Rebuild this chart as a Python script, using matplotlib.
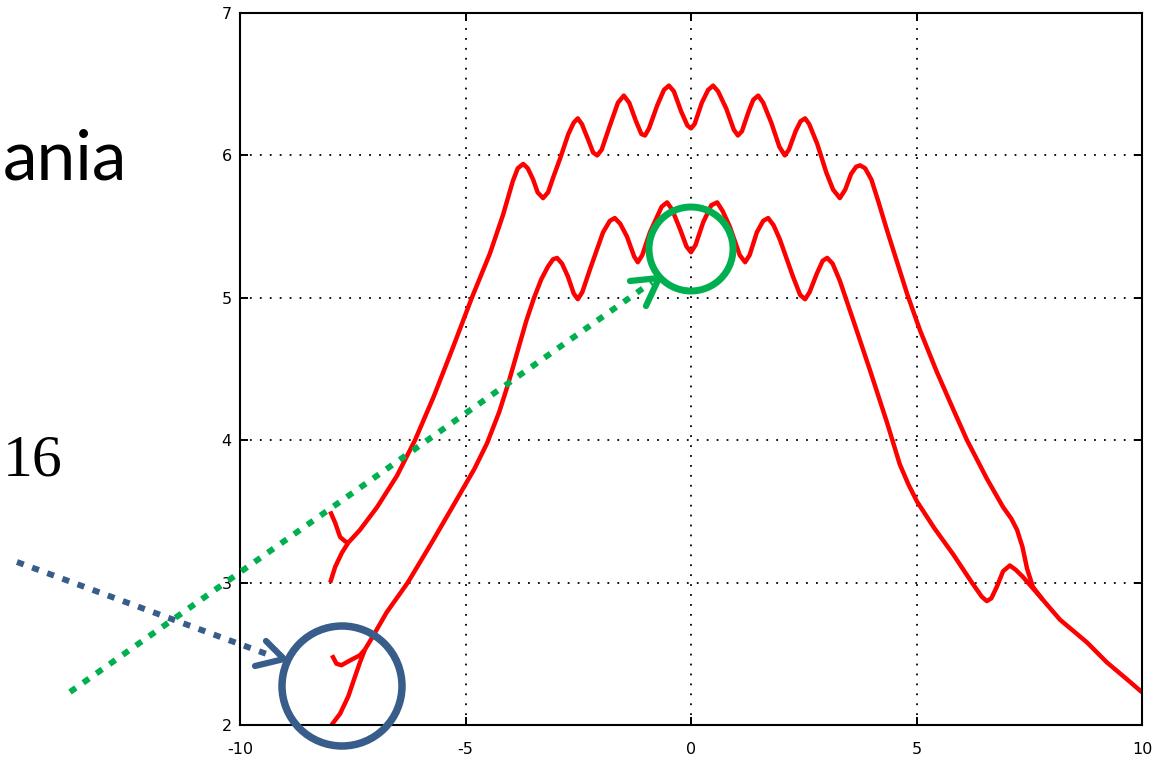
import numpy as np
import matplotlib.pyplot as plt
from matplotlib.patches import Circle

plt.rcParams['axes.unicode_minus'] = False

# main upper trajectory (after the two starting branches meet)
upper_x = [-7.60, -7.34, -6.96, -6.52, -6.12, -5.70, -5.28, -4.86, -4.46, -4.17,
           -3.95, -3.84, -3.72, -3.62, -3.50, -3.40, -3.28, -3.17, -3.05, -2.90,
           -2.72, -2.60, -2.51, -2.42, -2.28, -2.17, -2.08, -1.98, -1.82, -1.62,
           -1.49, -1.37, -1.22, -1.10, -1.02, -0.93, -0.75, -0.60, -0.49, -0.38,
           -0.22, -0.08, 0.00, 0.08, 0.24, 0.38, 0.49, 0.60, 0.78, 0.95,
           1.04, 1.13, 1.28, 1.38, 1.49, 1.60, 1.78, 1.96, 2.08, 2.17,
           2.32, 2.43, 2.53, 2.62, 2.80, 3.00, 3.15, 3.30, 3.42, 3.55,
           3.66, 3.75, 3.86, 4.00, 4.15, 4.35, 4.57, 4.80, 5.08, 5.45,
           5.81, 6.12, 6.56, 6.92, 7.10, 7.23, 7.35, 7.45, 7.58, 7.80,
           8.18, 8.78, 9.22, 9.67, 10.00]
upper_y = [3.28, 3.37, 3.53, 3.75, 4.00, 4.31, 4.65, 5.00, 5.31, 5.58,
           5.82, 5.91, 5.94, 5.91, 5.83, 5.74, 5.70, 5.74, 5.85, 5.98,
           6.15, 6.23, 6.26, 6.22, 6.11, 6.02, 6.00, 6.04, 6.19, 6.37,
           6.42, 6.37, 6.24, 6.15, 6.14, 6.19, 6.35, 6.46, 6.49, 6.45,
           6.31, 6.21, 6.19, 6.22, 6.37, 6.46, 6.49, 6.45, 6.33, 6.18,
           6.14, 6.17, 6.31, 6.39, 6.42, 6.37, 6.23, 6.06, 6.00, 6.04,
           6.17, 6.24, 6.26, 6.22, 6.08, 5.88, 5.76, 5.70, 5.76, 5.87,
           5.92, 5.93, 5.91, 5.83, 5.68, 5.47, 5.25, 5.02, 4.77, 4.48,
           4.22, 4.00, 3.73, 3.53, 3.45, 3.37, 3.25, 3.10, 2.97, 2.88,
           2.74, 2.58, 2.44, 2.32, 2.23]

# starting branches of the upper trajectory
upper_a_x = [-8.00, -7.89, -7.78, -7.67, -7.60]
upper_a_y = [3.50, 3.42, 3.32, 3.29, 3.28]
upper_b_x = [-8.00, -7.89, -7.74, -7.60]
upper_b_y = [3.00, 3.11, 3.21, 3.28]

# main lower trajectory, it joins the upper one near x = 7.8
lower_x = [-7.23, -7.04, -6.75, -6.28, -5.75, -5.20, -4.80, -4.52, -4.25, -4.05,
           -3.85, -3.65, -3.48, -3.32, -3.17, -3.06, -2.97, -2.86, -2.73, -2.60,
           -2.51, -2.41, -2.24, -1.95, -1.80, -1.69, -1.57, -1.42, -1.26, -1.18,
           -1.08, -0.91, -0.65, -0.53, -0.42, -0.24, -0.10, 0.00, 0.10, 0.27,
           0.45, 0.58, 0.70, 0.86, 1.08, 1.20, 1.30, 1.46, 1.60, 1.71,
           1.83, 1.97, 2.26, 2.42, 2.53, 2.63, 2.79, 2.92, 3.02, 3.14,
           3.30, 3.45, 3.60, 3.97, 4.35, 4.63, 4.82, 5.01, 5.40, 5.81,
           6.25, 6.45, 6.56, 6.66, 6.78, 6.92, 7.07, 7.20, 7.36, 7.58,
           7.80]
lower_y = [2.53, 2.63, 2.79, 3.00, 3.28, 3.58, 3.80, 3.98, 4.20, 4.40,
           4.62, 4.84, 5.00, 5.13, 5.22, 5.27, 5.28, 5.24, 5.15, 5.03,
           4.99, 5.04, 5.20, 5.46, 5.54, 5.56, 5.52, 5.43, 5.29, 5.25,
           5.30, 5.46, 5.64, 5.67, 5.62, 5.48, 5.36, 5.32, 5.37, 5.53,
           5.65, 5.67, 5.61, 5.50, 5.30, 5.25, 5.30, 5.46, 5.54, 5.56,
           5.51, 5.41, 5.15, 5.02, 4.99, 5.04, 5.17, 5.26, 5.28, 5.24,
           5.12, 4.98, 4.84, 4.49, 4.12, 3.83, 3.69, 3.57, 3.38, 3.20,
           2.99, 2.90, 2.87, 2.89, 2.97, 3.08, 3.12, 3.09, 3.04, 2.96,
           2.88]

# starting branches of the lower trajectory
lower_c_x = [-7.96, -7.86, -7.75, -7.52, -7.34, -7.23]
lower_c_y = [2.49, 2.43, 2.42, 2.46, 2.49, 2.53]
lower_d_x = [-7.97, -7.78, -7.60, -7.45, -7.34, -7.23]
lower_d_y = [2.00, 2.08, 2.20, 2.34, 2.44, 2.53]

x_ticks = [-10, -5, 0, 5, 10]
y_ticks = [2, 3, 4, 5, 6, 7]

W, H = 1166, 759
fig = plt.figure(figsize=(W / 100, H / 100), dpi=100)

# plot area in pixel terms
left, right, top, bottom = 240, 1142, 13, 725
ax = fig.add_axes([left / W, 1 - bottom / H, (right - left) / W, (bottom - top) / H])

for xs, ys in [(upper_x, upper_y), (upper_a_x, upper_a_y), (upper_b_x, upper_b_y),
               (lower_x, lower_y), (lower_c_x, lower_c_y), (lower_d_x, lower_d_y)]:
    ax.plot(xs, ys, color='#ff0000', lw=3.2, solid_joinstyle='round',
            solid_capstyle='butt')

ax.set_xlim(-10, 10)
ax.set_ylim(2, 7)
ax.set_xticks(x_ticks)
ax.set_yticks(y_ticks)
ax.grid(True, color='black', linestyle=(0, (1, 4.5)), linewidth=1.3)
for s in ax.spines.values():
    s.set_linewidth(1.5)
ax.tick_params(direction='in', length=6, width=1.4, top=True, right=True,
               labelsize=11.5, colors='black')
ax.tick_params(axis='x', pad=12)
ax.tick_params(axis='y', pad=6)

# overlay in pixel coordinates for the slide text and hand annotations
ov = fig.add_axes([0, 0, 1, 1], zorder=5)
ov.set_xlim(0, W)
ov.set_ylim(H, 0)
ov.axis('off')

ov.text(127, 180, 'ania', ha='right', va='baseline', fontsize=50,
        family='Lato', color='black')
ov.text(63, 476, '16', ha='right', va='baseline', fontsize=43,
        family='Liberation Serif', color='black')
ov.text(3, 732, 'n', ha='right', va='baseline', fontsize=50,
        family='Lato', color='black')

blue = '#385d8a'
green = '#00b050'

ov.add_patch(Circle((342, 686), 60, fill=False, ec=blue, lw=5.4))
ov.add_patch(Circle((691, 249), 42, fill=False, ec=green, lw=5.0))

dots = (0, (1.2, 1.5))
ov.plot([17, 272], [562, 656], color=blue, lw=4.3, linestyle=dots,
        dash_capstyle='butt')
ov.plot([266, 284, 255], [641, 659, 666], color=blue, lw=4.5,
        solid_capstyle='round', solid_joinstyle='round')

ov.plot([70, 652], [692, 282], color=green, lw=4.3, linestyle=dots,
        dash_capstyle='butt')
ov.plot([630, 659, 646], [281, 278, 306], color=green, lw=4.5,
        solid_capstyle='round', solid_joinstyle='round')

fig.savefig('out.png', dpi=100)
